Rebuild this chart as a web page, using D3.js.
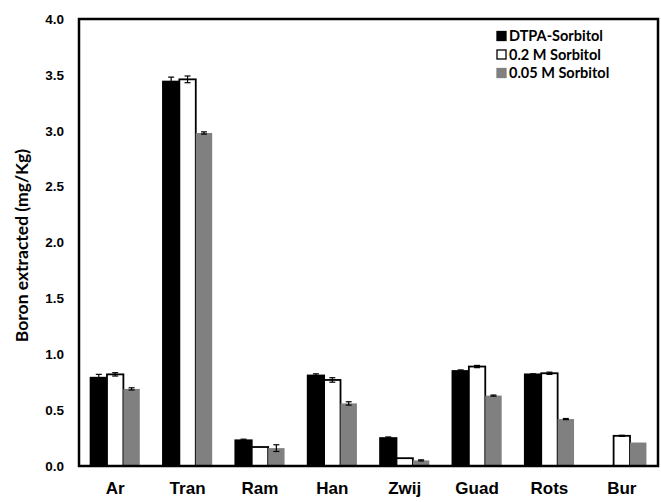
<!DOCTYPE html>
<html>
<head>
<meta charset="utf-8">
<script src="https://cdn.jsdelivr.net/npm/d3@7"></script>
<style>
  body { margin: 0; background: #fff; }
  svg { font-family: "Lato", "Open Sans", sans-serif; font-weight: bold; }
</style>
</head>
<body>
<svg id="chart" width="661" height="502"></svg>
<script>
var sites = ["Ar", "Tran", "Ram", "Han", "Zwij", "Guad", "Rots", "Bur"];
var seriesNames = ["DTPA-Sorbitol", "0.2 M Sorbitol", "0.05 M Sorbitol"];
var dtpa =      [0.79, 3.44, 0.23, 0.81, 0.25, 0.85, 0.82, 0];
var dtpaErr =   [0.03, 0.04, 0.01, 0.015, 0.01, 0.01, 0.005, 0];
var m02 =       [0.82, 3.46, 0.17, 0.77, 0.07, 0.89, 0.83, 0.27];
var m02Err =    [0.015, 0.03, 0, 0.02, 0, 0.01, 0.01, 0.005];
var m005 =      [0.69, 2.98, 0.16, 0.56, 0.05, 0.63, 0.42, 0.21];
var m005Err =   [0.01, 0.01, 0.03, 0.015, 0.005, 0.005, 0.005, 0];
var yTicks = [0, 0.5, 1.0, 1.5, 2.0, 2.5, 3.0, 3.5, 4.0];

var fills = ["#000000", "#ffffff", "#808080"];
var strokes = ["#000000", "#000000", "#808080"];

var margin = {top: 19, right: 3, bottom: 36, left: 79};
var svg = d3.select("#chart");
var width = 661 - margin.left - margin.right;
var height = 502 - margin.top - margin.bottom;
var g = svg.append("g").attr("transform", "translate(" + margin.left + "," + margin.top + ")");

var x = d3.scaleBand().domain(sites).range([0, width]).paddingInner(0.32).paddingOuter(0.16);
var x1 = d3.scaleBand().domain([0, 1, 2]).range([0, x.bandwidth()]);
var y = d3.scaleLinear().domain([0, 4]).range([height, 0]);

var rows = [];
var values = [dtpa, m02, m005];
var errs = [dtpaErr, m02Err, m005Err];
sites.forEach(function(s, i) {
  for (var k = 0; k < 3; k++) {
    rows.push({site: s, k: k, value: values[k][i], err: errs[k][i]});
  }
});

// bars
g.selectAll("rect.bar")
  .data(rows.filter(function(d) { return d.value > 0; }))
  .join("rect")
    .attr("class", "bar")
    .attr("x", function(d) { return x(d.site) + x1(d.k); })
    .attr("y", function(d) { return y(d.value); })
    .attr("width", x1.bandwidth())
    .attr("height", function(d) { return y(0) - y(d.value); })
    .attr("fill", function(d) { return fills[d.k]; })
    .attr("stroke", function(d) { return strokes[d.k]; })
    .attr("stroke-width", function(d) { return d.k === 2 ? 0 : 1.8; });

// error bars
var eb = g.selectAll("g.err")
  .data(rows.filter(function(d) { return d.value > 0 && d.err > 0; }))
  .join("g")
    .attr("class", "err")
    .attr("transform", function(d) { return "translate(" + (x(d.site) + x1(d.k) + x1.bandwidth() / 2) + ",0)"; })
    .attr("stroke", "#000")
    .attr("stroke-width", 1.2);
eb.append("line")
  .attr("y1", function(d) { return y(d.value + d.err); })
  .attr("y2", function(d) { return y(d.value - d.err); });
eb.append("line").attr("x1", -3).attr("x2", 3)
  .attr("y1", function(d) { return y(d.value + d.err); })
  .attr("y2", function(d) { return y(d.value + d.err); });
eb.append("line").attr("x1", -3).attr("x2", 3)
  .attr("y1", function(d) { return y(d.value - d.err); })
  .attr("y2", function(d) { return y(d.value - d.err); });

// frame
g.append("rect")
  .attr("width", width).attr("height", height)
  .attr("fill", "none").attr("stroke", "#000").attr("stroke-width", 2.5);

// y axis
var yAxis = g.append("g")
  .call(d3.axisLeft(y).tickValues(yTicks).tickFormat(d3.format(".1f")).tickSize(0).tickPadding(15));
yAxis.select(".domain").remove();
yAxis.selectAll("text").style("font-size", "13.5px").style("font-weight", "bold").attr("fill", "#000");

// x axis
var xAxis = g.append("g")
  .attr("transform", "translate(0," + height + ")")
  .call(d3.axisBottom(x).tickSize(0).tickPadding(16));
xAxis.select(".domain").remove();
xAxis.selectAll("text").style("font-size", "17px").style("font-weight", "bold").attr("fill", "#000");

// y title
svg.append("text")
  .attr("transform", "translate(28," + (margin.top + height / 2 + 3) + ") rotate(-90)")
  .attr("text-anchor", "middle")
  .style("font-size", "17.5px")
  .text("Boron extracted (mg/Kg)");

// legend
var legend = svg.selectAll("g.legend")
  .data(seriesNames)
  .join("g")
    .attr("class", "legend")
    .attr("transform", function(d, i) { return "translate(497," + (36 + i * 18.5) + ")"; });
legend.append("rect")
  .attr("x", 0).attr("y", -4.5).attr("width", 9).attr("height", 9)
  .attr("fill", function(d, i) { return fills[i]; })
  .attr("stroke", function(d, i) { return strokes[i]; })
  .attr("stroke-width", 1.3);
legend.append("text")
  .attr("x", 12).attr("dy", "0.35em")
  .style("font-size", "14.5px")
  .text(function(d) { return d; });
</script>
</body>
</html>
